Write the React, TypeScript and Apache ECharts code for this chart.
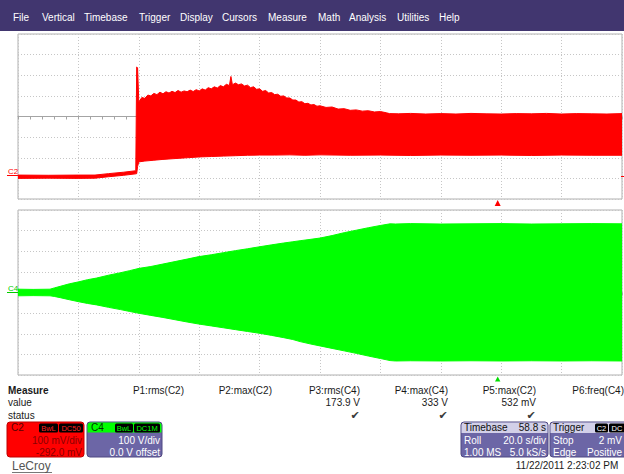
import React, { useEffect, useRef } from "react";
import * as echarts from "echarts";

// ---------------- data ----------------
// C2 (top trace), time in s (20 s/div, 10 div), envelope in mV
const c2UpTime = [0, 10, 20, 25.5, 30, 35, 39.0, 39.3, 39.6,
  40, 41, 42, 43, 44, 45, 46, 47, 48, 49, 50, 51, 52, 53, 54, 55, 56, 57, 58, 59, 60, 61, 62, 63, 64, 65, 66, 67, 68, 69, 70, 70.5, 71, 72, 73, 74, 75, 76, 77, 78, 79, 80, 81, 82, 83, 84, 85, 86, 87, 88, 89, 90, 91, 92, 93, 94, 95, 96, 97, 98, 99, 100,
  102, 104, 106, 108, 110, 112, 114, 116, 118, 120, 122, 123,
  126, 130, 135, 140, 145, 150, 155, 160, 165, 170, 175, 180, 185, 190, 195, 200];
const c2UpperMv = [8, 7, 8, 8, 15, 22, 29, 532, 528,
  362, 384, 380, 396, 392, 404, 398, 410, 402, 412, 406, 414, 408, 418, 410, 416, 412, 420, 413, 422, 416, 426, 420, 432, 426, 436, 430, 442, 436, 448, 442, 486, 446, 454, 446, 450, 440, 444, 432, 436, 424, 426, 414, 418, 406, 408, 398, 400, 390, 392, 382, 382, 372, 372, 362, 364, 354, 356, 348, 350, 342, 344,
  336, 338, 328, 330, 322, 324, 318, 320, 314, 316, 310, 306,
  305, 307, 304, 306, 304, 307, 305, 304, 306, 305, 307, 304, 306, 305, 304, 306];
const c2LoTime = [0, 10, 20, 25.5, 30, 35, 39.0, 39.3, 39.6, 40, 42, 45, 48, 52, 56, 60, 64, 68, 72, 76, 80, 85, 90, 95, 100, 110, 120, 130, 140, 150, 160, 170, 180, 190, 200];
const c2LowerMv = [-8, -7, -8, -7, 0, 7, 14, 15, 50, 72, 76, 80, 84, 88, 92, 96, 98, 100, 102, 104, 105, 105, 106, 104, 106, 104, 105, 103, 105, 104, 105, 103, 105, 104, 104];

// C4 (bottom trace), envelope in V
const c4Time = [0, 5, 10.6, 12, 14, 17, 20.2, 23, 26, 30, 34, 37, 40.1, 44, 48, 52, 56, 59.9, 64, 68, 72, 76, 80.1, 84, 88, 91, 93.4, 97, 100, 104, 108, 112, 116, 120, 123.2, 125, 130, 140, 150, 160, 170, 180, 190, 200];
const c4UpperV = [16, 15, 16, 22, 30, 42, 52, 62, 70, 84, 96, 106, 117, 126, 138, 150, 162, 174, 183, 193, 203, 212, 222, 231, 240, 246, 251, 258, 264, 276, 290, 302, 314, 325, 333, 332, 334, 332, 333, 334, 332, 333, 334, 333];
const c4LowerV = [-16, -15, -16, -19, -25, -35, -45, -53, -60, -72, -83, -92, -101, -111, -121, -132, -143, -153, -162, -171, -180, -189, -198, -208, -219, -228, -238, -250, -259, -271, -283, -295, -308, -320, -330, -332, -331, -332, -331, -332, -331, -332, -331, -332];

const menuItems = ["File", "Vertical", "Timebase", "Trigger", "Display", "Cursors", "Measure", "Math", "Analysis", "Utilities", "Help"];
const measureNames = ["P1:rms(C2)", "P2:max(C2)", "P3:rms(C4)", "P4:max(C4)", "P5:max(C2)", "P6:freq(C4)"];
const measureValues = ["", "", "173.9 V", "333 V", "532 mV", ""];
const measureStatus = [false, false, true, true, true, false];

const c2Info = ["C2", "BwL", "DC50", "100 mV/div", "-292.0 mV"];
const c4Info = ["C4", "BwL", "DC1M", "100 V/div", "0.0 V offset"];
const timebaseInfo = ["Timebase", "58.8 s", "Roll", "20.0 s/div", "1.00 MS", "5.0 kS/s"];
const triggerInfo = ["Trigger", "C2", "DC", "Stop", "2 mV", "Edge", "Positive"];
const dateText = "11/22/2011 2:23:02 PM";
const brand = "LeCroy";

// ---------------- helpers ----------------
const FONT = '"Liberation Sans", Arial, sans-serif';

function txt(x: number, y: number, text: string, o: any = {}) {
  const size = o.size ?? 10;
  const align = o.align ?? "left";
  return {
    type: "text",
    x,
    y,
    silent: true,
    z: 10,
    style: {
      text,
      fill: o.fill ?? "#1a1a1a",
      font: `${o.bold ? "bold " : ""}${size}px ${o.family ?? FONT}`,
      align,
      textAlign: align,
      verticalAlign: "middle",
      textVerticalAlign: "middle",
    },
  };
}

function rect(x: number, y: number, w: number, h: number, fill: string, o: any = {}) {
  return {
    type: "rect",
    silent: true,
    z: o.z ?? 5,
    shape: { x, y, width: w, height: h, r: o.r ?? 0 },
    style: { fill, stroke: o.stroke ?? null, lineWidth: o.stroke ? 1 : 0 },
  };
}

function badge(x: number, y: number, w: number, text: string, color: string) {
  return [
    rect(x, y, w, 9, "#000000", { r: 1.5, z: 8 }),
    txt(x + w / 2, y + 4.8, text, { size: 7.5, fill: color, align: "center" }),
  ];
}

// Envelope of a dense waveform: polygon between the lower and upper traces,
// positioned through the axes' scales with api.coord.
function envelope(xi: number, yi: number, tUp: number[], up: number[], tLo: number[], lo: number[], color: string) {
  return {
    type: "custom",
    xAxisIndex: xi,
    yAxisIndex: yi,
    silent: true,
    z: 3,
    clip: true,
    data: tUp.map((x, i) => [x, up[i]]),
    encode: { x: 0, y: 1 },
    renderItem: (params: any, api: any) => {
      if (params.dataIndex !== 0) return null;
      const top = tUp.map((x, i) => api.coord([x, up[i]]));
      const bot = tLo.map((x, i) => api.coord([x, lo[i]])).reverse();
      return {
        type: "polygon",
        shape: { points: top.concat(bot) },
        style: { fill: color, stroke: color, lineWidth: 1, lineJoin: "round" },
      };
    },
  };
}

const gridLine = { color: "#c6c6c6", type: [1, 2], width: 1 };

function mkX(gridIndex: number, zeroIdx?: number) {
  const axisLine: any = { show: true, onZero: true, lineStyle: { color: "#a4a4a4", width: 1 } };
  if (zeroIdx != null) axisLine.onZeroAxisIndex = zeroIdx;
  return {
    gridIndex,
    type: "value",
    min: 0,
    max: 200,
    interval: 20,
    axisLine,
    axisTick: { show: true, length: 3, lineStyle: { color: "#a4a4a4" } },
    minorTick: { show: true, splitNumber: 5, length: 3, lineStyle: { color: "#a4a4a4" } },
    axisLabel: { show: false },
    splitLine: { show: true, lineStyle: gridLine },
  };
}

export default function App() {
  const ref = useRef<HTMLDivElement>(null);

  useEffect(() => {
    if (!ref.current) return;
    const chart = echarts.init(ref.current, undefined, { renderer: "svg" });

    const menuX = [13, 42, 84, 139, 180, 222, 268, 318, 349, 397, 439];
    const colRight = [184, 272, 360, 448, 536, 624];

    const graphics: any[] = [];
    // menu bar
    graphics.push(rect(0, 0, 624, 31, "#41366f", { z: 1 }));
    menuItems.forEach((m, i) => graphics.push(txt(menuX[i], 17, m, { fill: "#ffffff" })));

    // channel side labels
    graphics.push(txt(8, 171, "C2", { size: 8, fill: "#ff0000" }));
    graphics.push({ type: "line", silent: true, z: 6, shape: { x1: 7, y1: 175.5, x2: 18, y2: 175.5 }, style: { stroke: "#ff0000", lineWidth: 1 } });
    graphics.push(txt(8, 288, "C4", { size: 8, fill: "#00cc00" }));
    graphics.push({ type: "line", silent: true, z: 6, shape: { x1: 7, y1: 292.5, x2: 18, y2: 292.5 }, style: { stroke: "#00cc00", lineWidth: 1 } });
    graphics.push({ type: "line", silent: true, z: 6, shape: { x1: 621, y1: 176.5, x2: 624, y2: 176.5 }, style: { stroke: "#ff0000", lineWidth: 1 } });

    // trigger markers
    graphics.push({ type: "polygon", silent: true, z: 6, shape: { points: [[494.7, 206], [500.7, 206], [497.7, 200]] }, style: { fill: "#ff0000" } });
    graphics.push({ type: "polygon", silent: true, z: 6, shape: { points: [[495, 381.5], [500.4, 381.5], [497.7, 376.5]] }, style: { fill: "#00dd00" } });

    // measure table
    graphics.push(txt(8, 390, "Measure", { bold: true }));
    graphics.push(txt(8, 402, "value"));
    graphics.push(txt(8, 415, "status"));
    measureNames.forEach((n, i) => {
      graphics.push(txt(colRight[i], 390, n, { align: "right" }));
      if (measureValues[i]) graphics.push(txt(colRight[i], 402, measureValues[i], { align: "right" }));
      if (measureStatus[i]) graphics.push(txt(colRight[i] - 5, 415, "\u2714", { align: "center", size: 11, fill: "#3a3a3a", family: '"DejaVu Sans", sans-serif' }));
    });

    // C2 box
    graphics.push(rect(7, 422, 77, 35, "#ff0000", { r: 3, stroke: "#c00000" }));
    graphics.push(txt(11, 427.5, c2Info[0], { fill: "#5a0000" }));
    graphics.push(...badge(39, 423.5, 19, c2Info[1], "#ff2020"));
    graphics.push(...badge(59, 423.5, 24, c2Info[2], "#ff2020"));
    graphics.push(txt(82, 440, c2Info[3], { align: "right", fill: "#8a0000" }));
    graphics.push(txt(82, 452, c2Info[4], { align: "right", fill: "#8a0000" }));

    // C4 box
    graphics.push(rect(87, 422, 75, 35, "#6c66a6", { r: 3, stroke: "#4e4883" }));
    graphics.push(rect(87.5, 422.5, 74, 10, "#00ff00", { r: [3, 3, 0, 0], z: 6 }));
    graphics.push(txt(91, 427.5, c4Info[0], { fill: "#003300" }));
    graphics.push(...badge(115, 423.5, 18, c4Info[1], "#00ff00"));
    graphics.push(...badge(134, 423.5, 26, c4Info[2], "#00ff00"));
    graphics.push(txt(160, 440, c4Info[3], { align: "right", fill: "#ffffff" }));
    graphics.push(txt(160, 452, c4Info[4], { align: "right", fill: "#ffffff" }));

    // Timebase box
    graphics.push(rect(461, 422, 87, 35, "#6c66a6", { r: 3, stroke: "#4e4883" }));
    graphics.push(rect(461.5, 422.5, 86, 10.5, "#d2d0e8", { r: [3, 3, 0, 0], z: 6 }));
    graphics.push(txt(464, 427.8, timebaseInfo[0], { fill: "#111111" }));
    graphics.push(txt(546, 427.8, timebaseInfo[1], { align: "right", fill: "#111111" }));
    graphics.push(txt(464, 440, timebaseInfo[2], { fill: "#ffffff" }));
    graphics.push(txt(546, 440, timebaseInfo[3], { align: "right", fill: "#ffffff" }));
    graphics.push(txt(464, 452, timebaseInfo[4], { fill: "#ffffff" }));
    graphics.push(txt(546, 452, timebaseInfo[5], { align: "right", fill: "#ffffff" }));

    // Trigger box
    graphics.push(rect(550, 422, 78, 35, "#6c66a6", { r: 3, stroke: "#4e4883" }));
    graphics.push(rect(550.5, 422.5, 77, 10.5, "#d2d0e8", { r: [3, 3, 0, 0], z: 6 }));
    graphics.push(txt(553, 427.8, triggerInfo[0], { fill: "#111111" }));
    graphics.push(...badge(595, 423.5, 13, triggerInfo[1], "#ffffff"));
    graphics.push(...badge(609, 423.5, 16, triggerInfo[2], "#ffffff"));
    graphics.push(txt(553, 440, triggerInfo[3], { fill: "#ffffff" }));
    graphics.push(txt(622, 440, triggerInfo[4], { align: "right", fill: "#ffffff" }));
    graphics.push(txt(553, 452, triggerInfo[5], { fill: "#ffffff" }));
    graphics.push(txt(622, 452, triggerInfo[6], { align: "right", fill: "#ffffff" }));

    // footer
    graphics.push(txt(567, 465, dateText, { align: "center" }));
    graphics.push(txt(12, 466, brand, { size: 12, fill: "#555555" }));
    graphics.push({ type: "line", silent: true, z: 6, shape: { x1: 12, y1: 472.5, x2: 52, y2: 472.5 }, style: { stroke: "#777777", lineWidth: 1 } });

    const option: any = {
      animation: false,
      backgroundColor: "#ffffff",
      grid: [
        { left: 18, top: 34, width: 604, height: 165, show: true, backgroundColor: "#ffffff", borderColor: "#b0b0b0", borderWidth: 1 },
        { left: 18, top: 210, width: 604, height: 165, show: true, backgroundColor: "#ffffff", borderColor: "#b0b0b0", borderWidth: 1 },
      ],
      xAxis: [mkX(0, 1), mkX(1)],
      yAxis: [
        { gridIndex: 0, type: "value", min: -108, max: 692, show: false },
        {
          gridIndex: 0, type: "value", min: -4, max: 4, interval: 1,
          axisLine: { show: false }, axisTick: { show: false }, axisLabel: { show: false },
          splitLine: { show: true, lineStyle: gridLine },
        },
        {
          gridIndex: 1, type: "value", min: -400, max: 400, interval: 100,
          axisLine: { show: false }, axisTick: { show: false }, axisLabel: { show: false },
          splitLine: { show: true, lineStyle: gridLine },
        },
      ],
      series: [
        envelope(0, 0, c2UpTime, c2UpperMv, c2LoTime, c2LowerMv, "#ff0000"),
        envelope(1, 2, c4Time, c4UpperV, c4Time, c4LowerV, "#00ff00"),
      ],
      graphic: { elements: graphics },
    };

    chart.setOption(option);
    return () => chart.dispose();
  }, []);

  return (
    <div
      ref={ref}
      style={{ position: "absolute", left: 0, top: 0, width: 624, height: 474, background: "#ffffff" }}
    />
  );
}
